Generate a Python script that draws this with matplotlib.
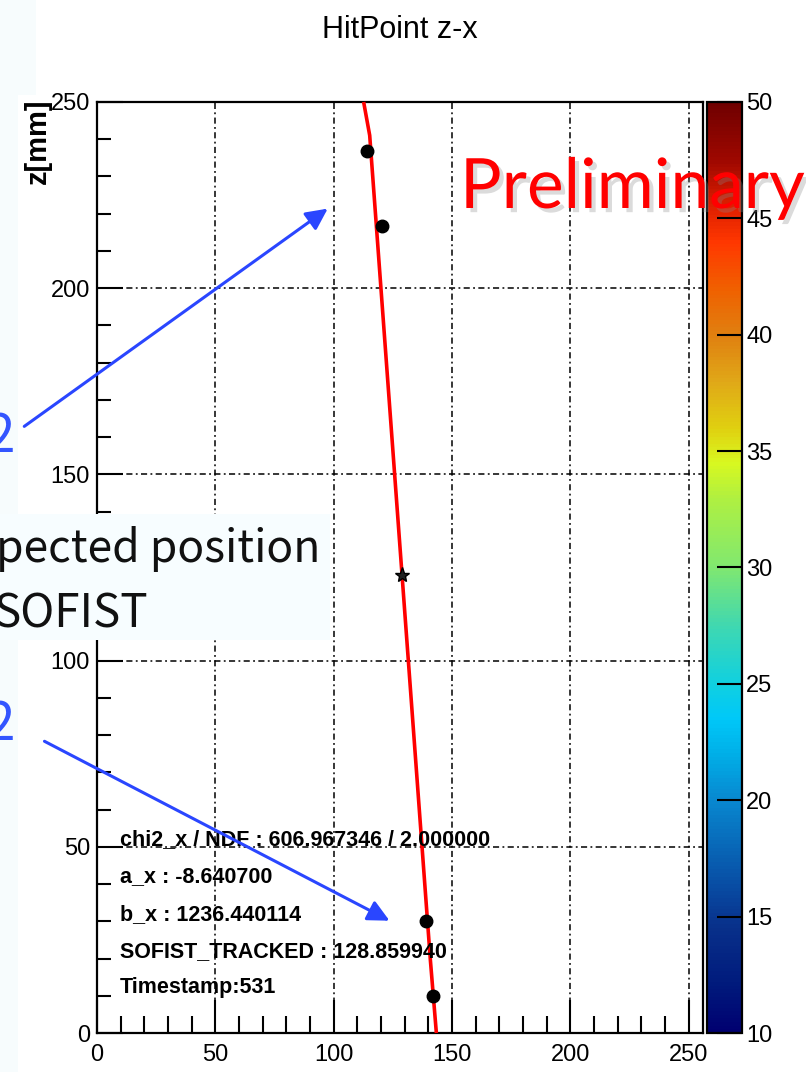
import numpy as np
import matplotlib
matplotlib.use("Agg")
import matplotlib.pyplot as plt
from matplotlib.colors import LinearSegmentedColormap, Normalize
from matplotlib.patches import Rectangle, FancyArrowPatch
import matplotlib.patheffects as pe
import matplotlib.colorbar as mcolorbar

# ---------------- data ----------------
hit_x = [114.1, 120.4, 139.0, 141.9]
hit_z = [236.8, 216.7, 30.1, 9.9]
sofist_x = [128.86]
sofist_z = [123.0]
fit_a = -8.640700
fit_b = 1236.440114
x_ticks = [0, 50, 100, 150, 200, 250]
z_ticks = [0, 50, 100, 150, 200, 250]
cbar_ticks = [10, 15, 20, 25, 30, 35, 40, 45, 50]
stats_lines = ["chi2_x / NDF : 606.967346 / 2.000000",
               "a_x : -8.640700",
               "b_x : 1236.440114",
               "SOFIST_TRACKED : 128.859940",
               "Timestamp:531"]

W, H = 806, 1072
fig = plt.figure(figsize=(W / 100, H / 100), dpi=100)
fig.patch.set_facecolor("white")

def fx(px):
    return px / W

def fy(py):
    return 1 - py / H

# light slide background tints
fig.add_artist(Rectangle((0, 0), fx(18), 1, transform=fig.transFigure,
                         facecolor="#f7fcfd", edgecolor="none", zorder=0))
fig.add_artist(Rectangle((0, fy(95)), fx(36), 1 - fy(95), transform=fig.transFigure,
                         facecolor="#f7fcfd", edgecolor="none", zorder=0))

L, R, T, B = 97, 703, 102, 1033
ax = fig.add_axes([fx(L), fy(B), fx(R) - fx(L), fy(T) - fy(B)])
ax.set_xlim(0, 256)
ax.set_ylim(0, 250)
ax.set_facecolor("white")

for s in ax.spines.values():
    s.set_linewidth(1.6)
    s.set_color("black")

ax.set_xticks(x_ticks)
ax.set_yticks(z_ticks)
ax.set_xticks(np.arange(0, 257, 10), minor=True)
ax.set_yticks(np.arange(0, 251, 10), minor=True)
lab_font = dict(family=["Liberation Sans", "DejaVu Sans"], size=17)
ax.set_xticklabels([str(v) for v in x_ticks], **lab_font)
ax.set_yticklabels([str(v) for v in z_ticks], **lab_font)
ax.tick_params(axis="x", which="major", direction="in", length=24, width=1.5,
               top=False, pad=8, colors="black")
ax.tick_params(axis="x", which="minor", direction="in", length=12, width=1.5, top=False)
ax.tick_params(axis="y", which="major", direction="in", length=19, width=1.5,
               right=False, pad=5)
ax.tick_params(axis="y", which="minor", direction="in", length=10, width=1.5, right=False)

# grid
for v in x_ticks[1:]:
    ax.axvline(v, color="black", lw=1.1, ls=(0, (4, 2.2, 1.2, 2.2)), zorder=1)
for v in z_ticks[1:-1]:
    ax.axhline(v, color="black", lw=1.1, ls=(0, (4, 2.2, 1.2, 2.2)), zorder=1)

# fit line sampled like ROOT TF1 (npx = 100 over 0..256)
xs = np.linspace(0, 256, 101)
zs = fit_a * xs + fit_b
inside = np.where((zs <= 250) & (zs >= 0))[0]
i0, i1 = max(inside[0] - 1, 0), min(inside[-1] + 1, len(xs) - 1)
xl = xs[i0:i1 + 1]
zl = np.clip(zs[i0:i1 + 1], 0, 250)
ax.plot(xl, zl, color="#ff0000", lw=2.6, zorder=3, clip_on=False,
        solid_capstyle="butt")

ax.plot(hit_x, hit_z, "o", color="black", ms=9, zorder=4)
ax.plot(sofist_x, sofist_z, "*", mfc="#222222", mec="black",
        ms=11, zorder=4)

# axis title
fig.text(fx(38), fy(98), "z[mm]", rotation=90, ha="center", va="top",
         family=["Liberation Sans", "DejaVu Sans"], size=21, weight="bold")

# title
fig.text(fx(400), fy(38), "HitPoint z-x", ha="center", va="baseline",
         family=["Liberation Sans", "DejaVu Sans"], size=22)

# colour bar
stops = [(10, "#000070"), (12, "#001a7c"), (14.5, "#08308a"), (16, "#0848a0"),
         (18, "#0868b8"), (20, "#0888d0"), (22, "#00b0e8"), (23.5, "#00c8f8"),
         (25, "#10d0e0"), (27.5, "#40d8b0"), (30, "#80e870"), (33, "#b0f040"),
         (34.5, "#d8f820"), (36, "#e0d010"), (38, "#e0a818"), (40, "#e08010"),
         (42, "#f06000"), (44, "#ff3800"), (45.5, "#e02000"), (47.5, "#a00800"),
         (50, "#700000")]
cmap = LinearSegmentedColormap.from_list(
    "rootlike", [((v - 10) / 40, c) for v, c in stops])
cax = fig.add_axes([fx(707), fy(B), fx(742) - fx(707), fy(T) - fy(B)])
cb = mcolorbar.ColorbarBase(cax, cmap=cmap, norm=Normalize(10, 50),
                            orientation="vertical")
cb.outline.set_linewidth(1.6)
cb.set_ticks(cbar_ticks)
cax.set_yticklabels([str(v) for v in cbar_ticks], **lab_font)
cax.tick_params(axis="y", direction="in", length=18, width=1.5, pad=3)

# stats text
ys = [845, 882, 920, 957, 993]
for s, yy in zip(stats_lines, ys):
    fig.text(fx(120), fy(yy), s, ha="left", va="baseline",
             family=["Liberation Sans", "DejaVu Sans"], size=15.5, weight="bold",
             zorder=6)

# slide overlay: expected position box
fig.add_artist(Rectangle((0, fy(640)), fx(330), fy(514) - fy(640),
                         transform=fig.transFigure, facecolor="#f7fdff",
                         edgecolor="none", zorder=5))
cjk = ["Noto Sans CJK JP", "DejaVu Sans"]
fig.text(fx(-4), fy(562), "pected position", ha="left", va="baseline",
         family=cjk, size=32, color="#111111", zorder=6)
fig.text(fx(-6), fy(627), "SOFIST", ha="left", va="baseline",
         family=cjk, size=33, color="#111111", zorder=6)

# blue annotations
blue = "#2a46ff"
fig.text(fx(-14), fy(452), "2", ha="left", va="baseline", family=cjk,
         size=38, color="#3355ff", zorder=6)
fig.text(fx(-14), fy(740), "2", ha="left", va="baseline", family=cjk,
         size=38, color="#3355ff", zorder=6)
for (x0, y0), (x1, y1) in [((22, 428), (330, 207)), ((42, 740), (392, 922))]:
    fig.add_artist(FancyArrowPatch(
        (fx(x0), fy(y0)), (fx(x1), fy(y1)), transform=fig.transFigure,
        arrowstyle="-|>,head_length=6.5,head_width=3.2", color=blue, lw=2.2,
        mutation_scale=2, zorder=7))

# Preliminary
fig.text(fx(460), fy(208), "Preliminary", ha="left", va="baseline",
         family=["Lato", "DejaVu Sans"], size=50, color="#ff0000", zorder=8,
         path_effects=[pe.withSimplePatchShadow(offset=(3, -3), shadow_rgbFace="#888888",
                                                alpha=0.3)])

fig.savefig("out.png", dpi=100)
